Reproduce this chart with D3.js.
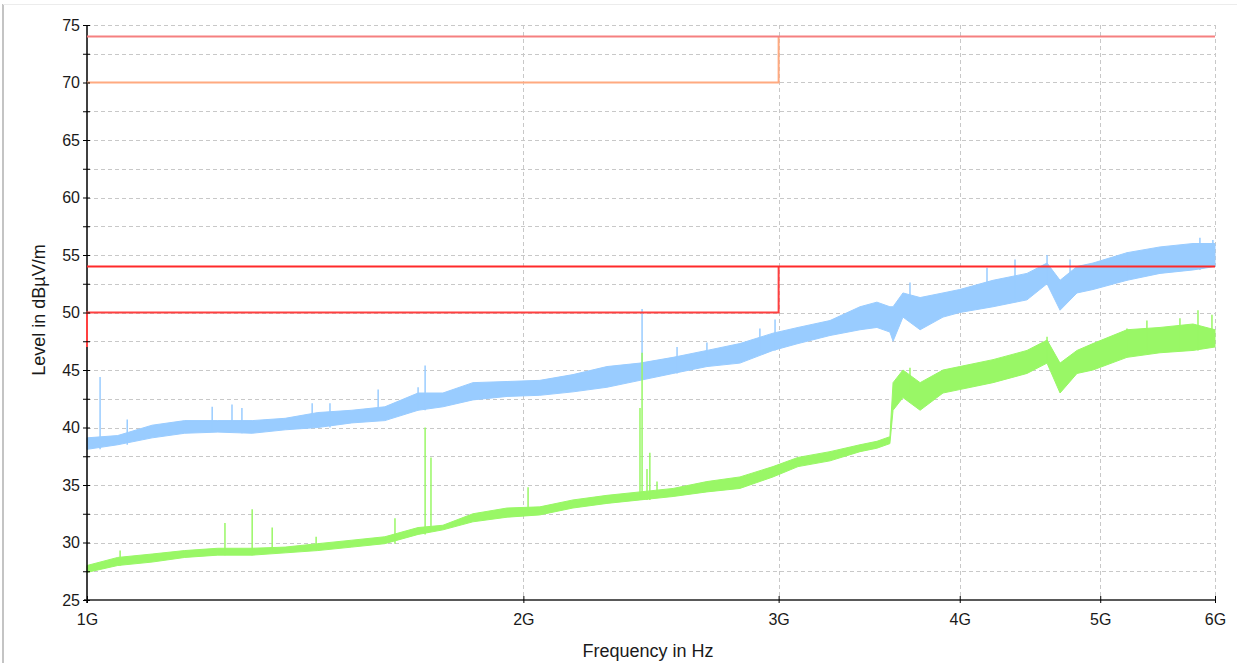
<!DOCTYPE html>
<html>
<head>
<meta charset="utf-8">
<script src="https://cdn.jsdelivr.net/npm/d3@7/dist/d3.min.js"></script>
<style>
  html, body { margin: 0; padding: 0; background: #fff; }
  svg { display: block; font-family: "Liberation Sans", Arial, sans-serif; }
</style>
</head>
<body>
<svg id="chart" width="1237" height="663"></svg>
<script>

// sample frequencies in GHz (shared by both traces)
var freqGHz = [1.000, 1.050, 1.109, 1.168, 1.231, 1.300, 1.370, 1.443, 1.523, 1.605,
               1.692, 1.760, 1.846, 1.949, 2.053, 2.164, 2.284, 2.407, 2.537, 2.677,
               2.821, 2.973, 3.094, 3.255, 3.414, 3.507, 3.580, 3.598, 3.655, 3.756,
               3.895, 4.000, 4.217, 4.451, 4.595, 4.691, 4.819, 4.943, 5.217, 5.498,
               5.794, 6.000]

// peak trace (blue): upper and lower edge of the noise band, dBµV/m
var peakHi = [39.1, 39.3, 40.2, 40.6, 40.6, 40.6, 40.8, 41.3, 41.5, 41.8,
              43.0, 43.0, 43.9, 44.0, 44.1, 44.6, 45.3, 45.6, 46.1, 46.7,
              47.3, 48.2, 48.7, 49.3, 50.5, 50.9, 50.5, 50.5, 51.7, 51.3,
              51.7, 52.0, 52.8, 53.4, 54.3, 52.8, 54.0, 54.3, 55.2, 55.7,
              56.0, 56.0]
var peakLo = [38.1, 38.5, 39.1, 39.5, 39.6, 39.5, 39.8, 40.0, 40.4, 40.6,
              41.5, 41.8, 42.4, 42.7, 42.8, 43.1, 43.5, 44.1, 44.7, 45.3,
              45.6, 46.7, 47.3, 48.0, 48.5, 48.7, 48.3, 47.5, 49.6, 48.5,
              49.6, 50.0, 50.5, 51.1, 52.5, 50.2, 51.7, 52.0, 52.8, 53.4,
              53.7, 54.0]

// average trace (green)
var avgHi = [28.0, 28.7, 29.0, 29.3, 29.5, 29.5, 29.6, 29.9, 30.2, 30.5,
             31.3, 31.5, 32.5, 33.0, 33.1, 33.7, 34.1, 34.4, 34.7, 35.3,
             35.7, 36.6, 37.4, 37.9, 38.5, 38.8, 39.2, 43.9, 45.0, 43.9,
             45.0, 45.3, 45.9, 46.7, 47.6, 45.6, 46.7, 47.3, 48.5, 48.7,
             49.0, 48.5]
var avgLo = [27.4, 28.0, 28.3, 28.7, 28.9, 28.9, 29.1, 29.3, 29.6, 29.9,
             30.7, 31.1, 31.8, 32.2, 32.4, 33.0, 33.4, 33.7, 34.0, 34.4,
             34.7, 35.7, 36.6, 37.1, 37.9, 38.2, 38.6, 41.5, 42.6, 41.5,
             43.0, 43.3, 43.9, 44.7, 45.6, 43.0, 44.7, 45.0, 46.1, 46.5,
             46.7, 47.0]

// single spikes sticking out of the bands
var peakSpikeFreq = [1.021, 1.066, 1.220, 1.259, 1.279, 1.430, 1.471, 1.588, 1.692, 1.711,
                     2.415, 2.553, 2.677, 2.912, 2.983, 3.696, 4.177, 4.367, 4.595, 4.766,
                     5.217, 5.858, 5.980]
var peakSpikeTop = [44.4, 40.7, 41.8, 42.0, 41.7, 42.1, 42.1, 43.3, 43.5, 45.4,
                    50.3, 47.0, 47.4, 48.6, 49.4, 52.6, 53.9, 54.6, 55.0, 54.6,
                    55.2, 56.5, 56.3]
var avgSpikeFreq = [1.054, 1.245, 1.300, 1.342, 1.439, 1.631, 1.711, 1.727, 2.015, 2.407,
                    2.415, 2.434, 2.445, 2.473, 3.696, 4.595, 5.217, 5.385, 5.675, 5.840,
                    5.971]
var avgSpikeTop = [29.3, 31.7, 32.9, 31.3, 30.5, 32.1, 40.0, 37.4, 34.8, 41.7,
                   46.5, 36.4, 37.8, 35.3, 45.2, 47.9, 48.6, 49.3, 49.5, 50.2,
                   49.8]

// limit lines as [GHz, dBµV/m] steps
var limitPeakUpper = [[1, 74], [6, 74]]
var limitPeakLower = [[1, 70], [3, 70], [3, 74]]
var limitAvgUpper = [[1, 54], [6, 54]]
var limitAvgLower = [[1, 47], [1, 50], [3, 50], [3, 54]]

var yTicks = [25, 27.5, 30, 32.5, 35, 37.5, 40, 42.5, 45, 47.5, 50, 52.5, 55, 57.5, 60, 62.5, 65, 67.5, 70, 72.5, 75]
var xTicks = [1, 2, 3, 4, 5, 6]

var svg = d3.select("#chart")

var x = d3.scaleLog().domain([1, 6]).range([87, 1215])
var y = d3.scaleLinear().domain([25, 75]).range([600, 25])

// panel frame
svg.append("line").attr("x1", 3).attr("x2", 3).attr("y1", 4).attr("y2", 663)
    .attr("stroke", "#c4c4c4").attr("stroke-width", 2)
svg.append("line").attr("x1", 3).attr("x2", 1237).attr("y1", 4.5).attr("y2", 4.5)
    .attr("stroke", "#ececec").attr("stroke-width", 1)

// dashed grid
var grid = svg.append("g").attr("stroke", "#c8c8c8").attr("stroke-width", 1).attr("stroke-dasharray", "4,3")
grid.selectAll("line.h").data(yTicks.filter(function(d){ return d > 25 }))
  .enter().append("line")
    .attr("x1", x(1)).attr("x2", x(6))
    .attr("y1", function(d){ return Math.round(y(d)) + 0.5 })
    .attr("y2", function(d){ return Math.round(y(d)) + 0.5 })
grid.selectAll("line.v").data(xTicks.filter(function(d){ return d > 1 }))
  .enter().append("line")
    .attr("x1", function(d){ return Math.round(x(d)) + 0.5 })
    .attr("x2", function(d){ return Math.round(x(d)) + 0.5 })
    .attr("y1", y(75)).attr("y2", y(25))

var nearest = function(f){ return d3.bisectCenter(freqGHz, f) }

var drawTrace = function(hi, lo, spikeF, spikeT, color){
    var rows = freqGHz.map(function(f, i){ return {f: f, hi: hi[i], lo: lo[i]} })
    var area = d3.area()
        .x(function(d){ return x(d.f) })
        .y0(function(d){ return y(d.lo) })
        .y1(function(d){ return y(d.hi) })
    svg.append("path").datum(rows)
        .attr("d", area)
        .attr("fill", color)
        .attr("stroke", color)
        .attr("stroke-width", 1)
        .attr("stroke-linejoin", "round")
    svg.append("g").selectAll("line")
        .data(spikeF.map(function(f, i){ return {f: f, top: spikeT[i]} }))
      .enter().append("line")
        .attr("x1", function(d){ return x(d.f) })
        .attr("x2", function(d){ return x(d.f) })
        .attr("y1", function(d){ return y(lo[nearest(d.f)]) })
        .attr("y2", function(d){ return y(d.top) })
        .attr("stroke", color)
        .attr("stroke-width", 1.5)
}

drawTrace(peakHi, peakLo, peakSpikeFreq, peakSpikeTop, "#99ccff")
drawTrace(avgHi, avgLo, avgSpikeFreq, avgSpikeTop, "#99f766")

// axis lines first, so the limit at 1G sits on top of the y axis
svg.append("line").attr("x1", 87).attr("x2", 87).attr("y1", 25).attr("y2", 603)
    .attr("stroke", "#000").attr("stroke-width", 1.5)
svg.append("line").attr("x1", 84).attr("x2", 1215).attr("y1", 600).attr("y2", 600)
    .attr("stroke", "#222").attr("stroke-width", 1.5)

// limits
var limitLine = d3.line()
    .x(function(d){ return x(d[0]) })
    .y(function(d){ return y(d[1]) })
var limits = [
    {pts: limitPeakLower, color: "#ffaa80"},
    {pts: limitPeakUpper, color: "#f58080"},
    {pts: limitAvgLower, color: "#ff4040"},
    {pts: limitAvgUpper, color: "#ff2a2a"}
]
limits.forEach(function(l){
    svg.append("path").datum(l.pts)
        .attr("d", limitLine)
        .attr("fill", "none")
        .attr("stroke", l.color)
        .attr("stroke-width", 2)
})

// axes
var yAxis = d3.axisLeft(y)
    .tickValues(yTicks)
    .tickSize(4)
    .tickFormat(function(d){ return d % 5 === 0 ? d : "" })
var gy = svg.append("g").attr("transform", "translate(87,0)").call(yAxis)
gy.select(".domain").remove()
gy.selectAll(".tick line").attr("x1", 3).attr("x2", -4).attr("stroke", "#000")
gy.selectAll(".tick text").attr("x", -7).attr("font-size", 16).attr("fill", "#1a1a1a")
    .attr("font-family", "Liberation Sans, Arial, sans-serif")

var xAxis = d3.axisBottom(x)
    .tickValues(xTicks)
    .tickFormat(function(d){ return d + "G" })
var gx = svg.append("g").attr("transform", "translate(0,600)").call(xAxis)
gx.select(".domain").remove()
gx.selectAll(".tick line").attr("y1", -4).attr("y2", 3).attr("stroke", "#000")
gx.selectAll(".tick text").attr("y", 25).attr("dy", 0).attr("font-size", 16).attr("fill", "#1a1a1a")
    .attr("font-family", "Liberation Sans, Arial, sans-serif")

// axis titles
svg.append("text")
    .attr("x", 648).attr("y", 657)
    .attr("text-anchor", "middle")
    .attr("font-size", 18).attr("fill", "#1a1a1a")
    .text("Frequency in Hz")
svg.append("text")
    .attr("transform", "translate(45,310) rotate(-90)")
    .attr("text-anchor", "middle")
    .attr("font-size", 18).attr("fill", "#1a1a1a")
    .text("Level in dBµV/m")

</script>
</body>
</html>
